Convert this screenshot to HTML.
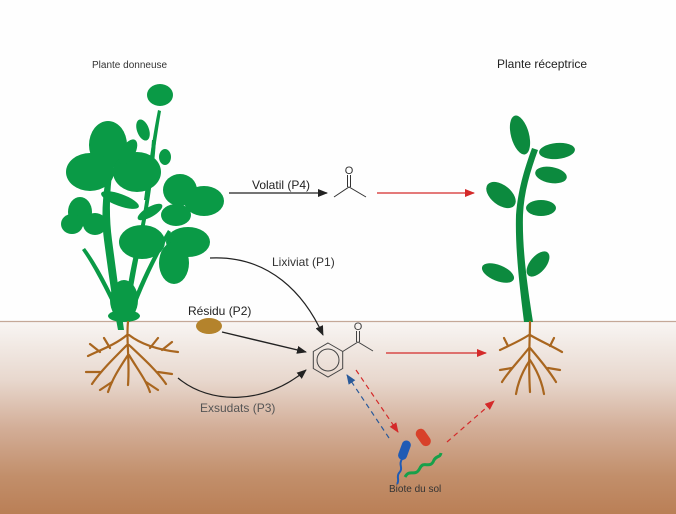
<!DOCTYPE html>
<html><head><meta charset="utf-8"><style>
html,body{margin:0;padding:0;background:#fff}
svg{display:block}
text{font-family:"Liberation Sans",sans-serif}
</style></head><body>
<svg width="676" height="514" viewBox="0 0 676 514" xmlns="http://www.w3.org/2000/svg">
<defs>
<linearGradient id="soil" x1="0" y1="0" x2="0" y2="1">
<stop offset="0" stop-color="#f8f5f3"/>
<stop offset="0.3" stop-color="#e8d8ce"/>
<stop offset="0.55" stop-color="#d3ae98"/>
<stop offset="0.8" stop-color="#c28f6b"/>
<stop offset="1" stop-color="#ba7f56"/>
</linearGradient>
<marker id="ab" markerWidth="10" markerHeight="8" refX="9" refY="4" orient="auto" markerUnits="userSpaceOnUse"><path d="M0,0 L10,4 L0,8 z" fill="#222"/></marker>
<marker id="ar" markerWidth="10" markerHeight="8" refX="9" refY="4" orient="auto" markerUnits="userSpaceOnUse"><path d="M0,0 L10,4 L0,8 z" fill="#d42a2a"/></marker>
<marker id="abl" markerWidth="10" markerHeight="8" refX="9" refY="4" orient="auto" markerUnits="userSpaceOnUse"><path d="M0,0 L10,4 L0,8 z" fill="#2a5a9a"/></marker>
</defs>
<rect x="0" y="0" width="676" height="322" fill="#fefefe"/>
<rect x="0" y="322" width="676" height="192" fill="url(#soil)"/>
<line x1="0" y1="321.5" x2="676" y2="321.5" stroke="#c4a898" stroke-width="1.2"/>

<!-- Donor plant -->
<g fill="#0a9a46" stroke="none">
<path d="M118,330 C112,300 108,270 104,240 C100,210 104,180 112,150 L116,150 C110,180 108,210 112,240 C116,270 120,300 124,330 z"/>
<path d="M124,320 C126,290 132,260 140,230 C146,200 150,170 152,140 L156,140 C154,170 150,200 144,230 C138,260 132,290 128,320 z"/>
<path d="M126,320 C136,290 150,260 168,230 L171,232 C154,262 140,292 130,322 z"/>
<path d="M120,320 C110,300 96,270 82,250 L85,248 C100,268 114,298 124,320 z"/>
<path d="M144,200 C148,170 152,140 158,110 L161,111 C156,140 152,170 148,200 z"/>
<ellipse cx="108" cy="145" rx="19" ry="24"/>
<ellipse cx="90" cy="172" rx="24" ry="19"/>
<ellipse cx="137" cy="172" rx="24" ry="20"/>
<ellipse cx="128" cy="152" rx="7" ry="14" transform="rotate(30 128 152)"/>
<ellipse cx="180" cy="190" rx="17" ry="16"/>
<ellipse cx="204" cy="201" rx="20" ry="15"/>
<ellipse cx="176" cy="215" rx="15" ry="11"/>
<ellipse cx="80" cy="212" rx="12" ry="15"/>
<ellipse cx="72" cy="224" rx="11" ry="10"/>
<ellipse cx="95" cy="224" rx="12" ry="11"/>
<ellipse cx="142" cy="242" rx="23" ry="17"/>
<ellipse cx="188" cy="242" rx="22" ry="15"/>
<ellipse cx="174" cy="263" rx="15" ry="21"/>
<ellipse cx="120" cy="200" rx="20" ry="6" transform="rotate(20 120 200)"/>
<ellipse cx="150" cy="212" rx="14" ry="5" transform="rotate(-30 150 212)"/>
<ellipse cx="160" cy="95" rx="13" ry="11"/>
<ellipse cx="165" cy="157" rx="6" ry="8"/>
<ellipse cx="143" cy="130" rx="6" ry="11" transform="rotate(-20 143 130)"/>
<ellipse cx="124" cy="300" rx="14" ry="20"/>
<ellipse cx="124" cy="316" rx="16" ry="6"/>
</g>
<g stroke="#a9661f" stroke-width="2.2" fill="none" stroke-linecap="round">
<path d="M128,322 C126,340 130,360 128,385"/>
<path d="M127,335 C115,345 100,350 88,356"/>
<path d="M129,335 C142,345 160,350 178,352"/>
<path d="M127,345 C112,360 100,372 92,384"/>
<path d="M129,345 C145,360 158,372 166,384"/>
<path d="M128,355 C118,370 112,380 108,392"/>
<path d="M129,355 C138,370 146,380 150,392"/>
<path d="M100,352 L90,344 M110,348 L104,338 M150,348 L158,338 M162,350 L172,342 M100,372 L86,372 M158,372 L172,374 M112,382 L100,390 M146,382 L158,390"/>
</g>

<!-- Recipient plant -->
<g fill="#0c8a3e">
<path d="M524,322 C520,290 515,250 516,215 C518,190 524,170 532,148 L538,150 C530,172 524,192 523,215 C522,250 528,290 533,322 z"/>
<ellipse cx="520" cy="135" rx="9" ry="20" transform="rotate(-15 520 135)"/>
<ellipse cx="557" cy="151" rx="18" ry="8" transform="rotate(-5 557 151)"/>
<ellipse cx="551" cy="175" rx="16" ry="8" transform="rotate(10 551 175)"/>
<ellipse cx="501" cy="195" rx="17" ry="10" transform="rotate(38 501 195)"/>
<ellipse cx="541" cy="208" rx="15" ry="8"/>
<ellipse cx="498" cy="273" rx="17" ry="8" transform="rotate(22 498 273)"/>
<ellipse cx="538" cy="264" rx="8" ry="15" transform="rotate(40 538 264)"/>
</g>
<g stroke="#a9661f" stroke-width="2.2" fill="none" stroke-linecap="round">
<path d="M530,322 C530,340 528,360 530,392"/>
<path d="M529,335 C518,342 508,346 500,350 M530,335 C542,342 552,346 562,352"/>
<path d="M529,348 C518,362 508,372 502,382 M530,348 C542,362 550,372 556,382"/>
<path d="M530,360 C522,372 518,382 516,394 M530,360 C538,372 542,382 544,394"/>
<path d="M508,346 L504,338 M550,346 L554,338 M512,368 L500,370 M548,368 L560,370"/>
</g>

<!-- Labels -->
<text x="92" y="68" font-size="10" fill="#333">Plante donneuse</text>
<text x="497" y="68" font-size="12" fill="#222">Plante réceptrice</text>
<text x="252" y="189" font-size="12" fill="#222">Volatil (P4)</text>
<text x="272" y="266" font-size="12" fill="#333">Lixiviat (P1)</text>
<text x="188" y="315" font-size="12" fill="#222">Résidu (P2)</text>
<text x="200" y="412" font-size="12" fill="#555">Exsudats (P3)</text>
<text x="389" y="492" font-size="10" fill="#333">Biote du sol</text>

<!-- Arrows -->
<line x1="229" y1="193" x2="327" y2="193" stroke="#222" stroke-width="1.2" marker-end="url(#ab)"/>
<line x1="377" y1="193" x2="474" y2="193" stroke="#d42a2a" stroke-width="1.2" marker-end="url(#ar)"/>
<path d="M210,258 C270,255 305,295 323,335" stroke="#222" stroke-width="1.2" fill="none" marker-end="url(#ab)"/>
<line x1="222" y1="332" x2="306" y2="352" stroke="#222" stroke-width="1.4" marker-end="url(#ab)"/>
<path d="M178,378 C210,405 265,405 306,370" stroke="#222" stroke-width="1.2" fill="none" marker-end="url(#ab)"/>
<line x1="386" y1="353" x2="486" y2="353" stroke="#d42a2a" stroke-width="1.2" marker-end="url(#ar)"/>
<line x1="356" y1="370" x2="398" y2="432" stroke="#d42a2a" stroke-width="1.2" stroke-dasharray="5,4" marker-end="url(#ar)"/>
<line x1="389" y1="438" x2="347" y2="375" stroke="#2a5a9a" stroke-width="1.2" stroke-dasharray="5,4" marker-end="url(#abl)"/>
<line x1="447" y1="442" x2="494" y2="401" stroke="#d42a2a" stroke-width="1.2" stroke-dasharray="5,4" marker-end="url(#ar)"/>

<!-- Acetone -->
<g stroke="#333" stroke-width="1" fill="none">
<polyline points="334,197 349,187 366,197"/>
<line x1="347.5" y1="175" x2="347.5" y2="187"/>
<line x1="350.5" y1="175" x2="350.5" y2="187"/>
</g>
<text x="349" y="174" font-size="11" fill="#333" text-anchor="middle">O</text>

<!-- Acetophenone -->
<g stroke="#444" stroke-width="1" fill="none">
<polygon points="328,343 342.7,351.5 342.7,368.5 328,377 313.3,368.5 313.3,351.5"/>
<circle cx="328" cy="360" r="11"/>
<polyline points="342.7,351.5 358,342 373,351"/>
<line x1="356.5" y1="331" x2="356.5" y2="342"/>
<line x1="359.5" y1="331" x2="359.5" y2="342"/>
</g>
<text x="358" y="330" font-size="11" fill="#444" text-anchor="middle">O</text>

<!-- Residue blob -->
<ellipse cx="209" cy="326" rx="13" ry="8" fill="#b4832c"/>

<!-- Bacteria -->
<rect x="400" y="440" width="9" height="20" rx="4.5" fill="#1f5bb5" transform="rotate(20 404 450)"/>
<path d="M402,459 C398,465 404,468 399,473 C396,477 400,480 397,484" stroke="#1f5bb5" stroke-width="2" fill="none"/>
<rect x="418" y="428" width="10" height="19" rx="5" fill="#d8412a" transform="rotate(-35 423 437)"/>
<path d="M405,477 C410,468 415,478 420,468 C424,460 430,470 434,460 C437,455 440,458 441,453" stroke="#17a04a" stroke-width="3" fill="none"/>
</svg>
</body></html>
